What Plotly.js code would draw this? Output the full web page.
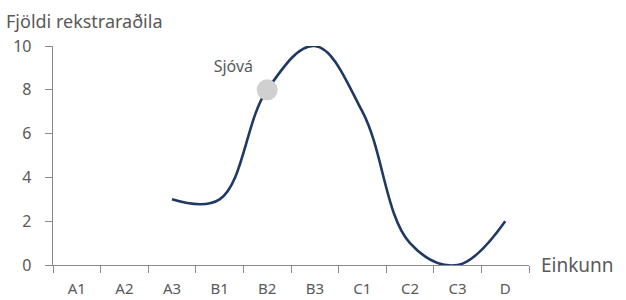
<!DOCTYPE html>
<html><head><meta charset="utf-8">
<script src="https://cdn.plot.ly/plotly-3.0.1.min.js"></script>
<style>html,body{margin:0;padding:0;background:#fff}#c{width:626px;height:300px}</style>
</head><body><div id="c"></div>
<script>
var categories = ["A1","A2","A3","B1","B2","B3","C1","C2","C3","D"];
var counts = [null,null,3,3,8,10,7,1,0,2];
var highlightCat = ["B2"];
var highlightVal = [8];
var highlightLabel = ["Sjóvá"];
var yTicks = [0,2,4,6,8,10];

var grey = "#898989", txt = "#595959", fnt = "Noto Sans, Open Sans, sans-serif";
var traces = [
  {x: categories, y: counts, type: "scatter", mode: "lines", connectgaps: false,
   line: {color: "#203864", width: 2.6, shape: "spline", smoothing: 1.1}, hoverinfo: "skip"},
  {x: highlightCat, y: highlightVal, type: "scatter", mode: "markers+text",
   marker: {color: "#d0d0d0", size: 21, symbol: "circle"},
   text: highlightLabel, textposition: "top left",
   textfont: {family: fnt, size: 16, color: txt}}
];
var layout = {
  width: 626, height: 300, showlegend: false,
  paper_bgcolor: "#fff", plot_bgcolor: "#fff",
  margin: {l: 53, r: 97, t: 46, b: 35},
  xaxis: {type: "category", range: [-0.5, 9.5], showgrid: false, zeroline: false,
    showline: true, linecolor: grey, linewidth: 1.3, ticks: "outside", tickson: "boundaries",
    ticklen: 7, tickcolor: grey, ticklabelstandoff: 10, tickfont: {family: fnt, size: 15, color: txt}},
  yaxis: {range: [0, 10], tickvals: yTicks, showgrid: false, zeroline: false,
    showline: true, linecolor: grey, linewidth: 1.3, ticks: "outside", ticklen: 7, tickcolor: grey,
    ticklabelstandoff: 10, tickfont: {family: fnt, size: 16, color: txt}},
  annotations: [
    {text: "Fjöldi rekstraraðila", xref: "paper", yref: "paper", x: 0, y: 1, xshift: -49, yshift: 11,
     xanchor: "left", yanchor: "bottom", showarrow: false, font: {family: fnt, size: 18, color: txt}},
    {text: "Einkunn", xref: "paper", yref: "paper", x: 1, y: 0, xshift: 10,
     xanchor: "left", yanchor: "middle", showarrow: false, font: {family: fnt, size: 19, color: txt}}
  ]
};
Plotly.newPlot("c", traces, layout, {displayModeBar: false, staticPlot: true});
</script></body></html>
